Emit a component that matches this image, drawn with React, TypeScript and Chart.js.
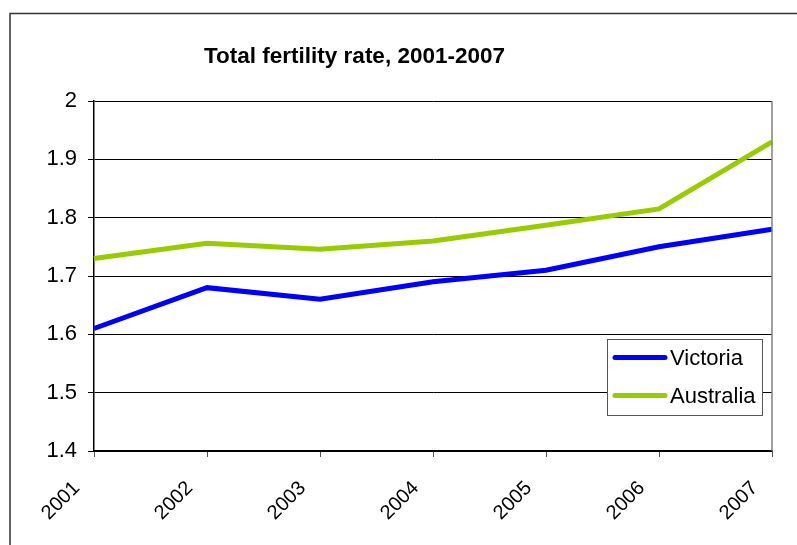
import React, { useEffect, useRef } from "react";
import { Chart, registerables } from "chart.js";

Chart.register(...registerables);

const title = "Total fertility rate, 2001-2007";
const years = ["2001", "2002", "2003", "2004", "2005", "2006", "2007"];
const victoria = [1.61, 1.68, 1.66, 1.69, 1.71, 1.75, 1.78];
const australia = [1.73, 1.756, 1.746, 1.76, 1.787, 1.815, 1.93];
const yTickValues = [1.4, 1.5, 1.6, 1.7, 1.8, 1.9, 2.0];
const seriesNames = ["Victoria", "Australia"];
const seriesColors = ["#0000FF", "#99CC00"];

const FONT = "'Liberation Sans', Arial, sans-serif";

const decorPlugin = {
  id: "decor",
  afterDraw(chart: any) {
    const ctx = chart.ctx;
    const a = chart.chartArea;
    const xs = chart.scales.x;
    ctx.save();
    // outer frame
    ctx.strokeStyle = "#333333";
    ctx.lineWidth = 1.5;
    ctx.beginPath();
    ctx.moveTo(10, 560);
    ctx.lineTo(10, 13.5);
    ctx.lineTo(820, 13.5);
    ctx.stroke();
    // right plot border
    ctx.strokeStyle = "#808080";
    ctx.lineWidth = 1.5;
    ctx.beginPath();
    ctx.moveTo(a.right, a.top);
    ctx.lineTo(a.right, a.bottom);
    ctx.stroke();
    // rotated category labels
    ctx.fillStyle = "#000";
    ctx.font = `20px ${FONT}`;
    ctx.textAlign = "right";
    ctx.textBaseline = "alphabetic";
    (chart.data.labels as string[]).forEach((lab: string, i: number) => {
      const px = xs.getPixelForValue(i);
      ctx.save();
      ctx.translate(px - 13.5, a.bottom + 38);
      ctx.rotate(-Math.PI / 4);
      ctx.fillText(lab, 0, 0);
      ctx.restore();
    });
    // title
    ctx.fillStyle = "#000";
    ctx.font = `bold 22.5px ${FONT}`;
    ctx.textAlign = "center";
    ctx.textBaseline = "middle";
    ctx.fillText(title, 354.5, 57);
    // legend
    const lx = 607.5, ly = 339.5, lw = 155, lh = 76;
    ctx.fillStyle = "#fff";
    ctx.fillRect(lx, ly, lw, lh);
    ctx.strokeStyle = "#555";
    ctx.lineWidth = 1;
    ctx.strokeRect(lx, ly, lw, lh);
    chart.data.datasets.forEach((ds: any, i: number) => {
      const y = 357.5 + i * 38;
      ctx.strokeStyle = ds.borderColor;
      ctx.lineWidth = 5;
      ctx.lineCap = "round";
      ctx.beginPath();
      ctx.moveTo(615, y);
      ctx.lineTo(665, y);
      ctx.stroke();
      ctx.fillStyle = "#000";
      ctx.font = `22px ${FONT}`;
      ctx.textAlign = "left";
      ctx.textBaseline = "middle";
      ctx.fillText(ds.label, 670, y + 1);
    });
    ctx.restore();
  },
};

export default function App() {
  const ref = useRef<HTMLCanvasElement | null>(null);
  useEffect(() => {
    const canvas = ref.current;
    if (!canvas) return;
    const chart = new Chart(canvas, {
      type: "line",
      data: {
        labels: years,
        datasets: [
          {
            label: seriesNames[0],
            data: victoria,
            borderColor: seriesColors[0],
            backgroundColor: seriesColors[0],
            borderWidth: 5,
            pointRadius: 0,
            tension: 0,
          },
          {
            label: seriesNames[1],
            data: australia,
            borderColor: seriesColors[1],
            backgroundColor: seriesColors[1],
            borderWidth: 5,
            pointRadius: 0,
            tension: 0,
          },
        ],
      },
      options: {
        animation: false,
        responsive: false,
        maintainAspectRatio: false,
        devicePixelRatio: 1,
        layout: { padding: { top: 101, left: 10, right: 25, bottom: 34 } },
        plugins: {
          legend: { display: false },
          title: { display: false },
          tooltip: { enabled: false },
        },
        scales: {
          x: {
            offset: false,
            grid: {
              drawOnChartArea: false,
              drawTicks: true,
              tickLength: 6,
              color: "#555",
            },
            border: { display: true, color: "#000", width: 1.5 },
            ticks: {
              display: false,
              autoSkip: false,
            },
            afterFit(scale: any) {
              scale.height = 60;
              scale.paddingLeft = 0;
              scale.paddingRight = 0;
            },
          },
          y: {
            min: 1.4,
            max: 2.0,
            grid: {
              color: "#000",
              lineWidth: 1,
              drawTicks: true,
              tickLength: 6,
            },
            border: { display: true, color: "#000", width: 1.5 },
            ticks: {
              color: "#000",
              font: { family: FONT, size: 22 },
              padding: 11,
              callback: (v: any) => String(Number(Number(v).toFixed(1))),
            },
            afterBuildTicks(scale: any) {
              scale.ticks = yTickValues.map((v) => ({ value: v }));
            },
            afterFit(scale: any) {
              scale.width = 84;
            },
          },
        },
      },
      plugins: [decorPlugin],
    });
    return () => chart.destroy();
  }, []);
  return (
    <div style={{ position: "absolute", left: 0, top: 0, width: 797, height: 545, background: "#fff" }}>
      <canvas ref={ref} width={797} height={545} style={{ width: 797, height: 545, display: "block" }} />
    </div>
  );
}
